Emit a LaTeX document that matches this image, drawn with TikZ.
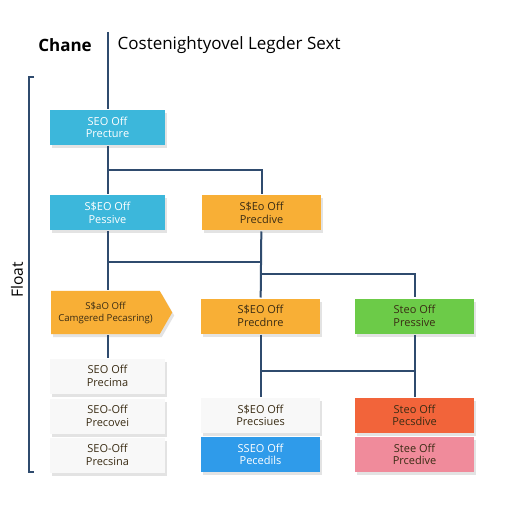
\documentclass[tikz,border=0pt]{standalone}
\usepackage{fontspec}
\setmainfont{Open Sans}
\setsansfont{Open Sans}
\usetikzlibrary{positioning,shapes.symbols,shadows}

\definecolor{linecol}{HTML}{2F4B6E}
\definecolor{cyanbox}{HTML}{3CB7DB}
\definecolor{orangebox}{HTML}{F8AF36}
\definecolor{greenbox}{HTML}{6CCB48}
\definecolor{redbox}{HTML}{F2643A}
\definecolor{bluebox}{HTML}{2F9BEA}
\definecolor{pinkbox}{HTML}{F08B9B}
\definecolor{whitebox}{HTML}{F8F8F8}
\definecolor{darktext}{HTML}{3A2C14}

\begin{document}
\begin{tikzpicture}[x=0.5pt,y=-0.5pt,node distance=77pt,line width=1pt,draw=linecol,
  seo node/.style={rectangle,minimum width=59.5pt,minimum height=17.5pt,inner sep=1pt,align=center,
    font=\fontsize{5.5}{6.2}\selectfont,text=darktext,
    drop shadow={opacity=0.22,shadow xshift=1pt,shadow yshift=-1.5pt}},
  cyan node/.style={seo node,fill=cyanbox,text=white,minimum width=57.5pt},
  orange node/.style={seo node,fill=orangebox},
  green node/.style={seo node,fill=greenbox},
  red node/.style={seo node,fill=redbox},
  blue node/.style={seo node,fill=bluebox,text=white},
  pink node/.style={seo node,fill=pinkbox},
  white node/.style={seo node,fill=whitebox,minimum width=57.5pt}]

 \useasboundingbox[fill=white] (0,0) rectangle (512,512);

 % heading
 \node[font=\fontsize{8.5}{10}\selectfont\bfseries] (chane) at (65,45) {Chane};
 \node[font=\fontsize{8.5}{10}\selectfont,anchor=west] (head) at (110,45) {Costenightyovel Legder Sext};
 \node[font=\fontsize{7.8}{9}\selectfont,rotate=90] (float) at (17,280) {Float};
 \coordinate (top) at (107.5,32);

 % boxes
 \node[cyan node] (1) at (107.5,127.5) {SEO Off\\Precture};
 \node[cyan node] (2) at (107.5,213) {S\$EO Off\\Pessive};
 \node[orange node] (3) [right of=2] {S\$Eo Off\\Precdive};
 \node[seo node,signal,signal to=east,signal pointer angle=120,fill=orangebox,
   font=\fontsize{4.8}{6}\selectfont,
   minimum width=60.5pt,minimum height=21.5pt] (4) at (105.5,312.5) {S\$aO Off\\Camgered Pecasring)};
 \node[orange node] (5) at (260.5,316) {S\$EO Off\\Precdnre};
 \node[green node] (6) [right of=5] {Steo Off\\Pressive};
 \node[white node] (7) at (107.5,376) {SEO Off\\Precima};
 \node[white node] (8) [node distance=20pt,below of=7] {SEO-Off\\Precovei};
 \node[white node] (9) [node distance=19.5pt,below of=8] {SEO-Off\\Precsina};
 \node[white node,minimum width=59.5pt] (10) at (260.5,415.5) {S\$EO Off\\Precsiues};
 \node[red node] (11) [right of=10] {Steo Off\\Pecsdive};
 \node[blue node] (12) [node distance=19.5pt,below of=10] {SSEO Off\\Pecedils};
 \node[pink node] (13) [right of=12] {Stee Off\\Prcedive};

 % junctions
 \coordinate (j1) at (107.5,170);
 \coordinate (j2) at (107.5,262);
 \coordinate (j3) at (260.5,274);
 \coordinate (j4) at (260.5,371);

 \path[draw=linecol]
    (top)	edge (1)
    (1)		edge (2)
    (3)		edge (5)
    (5)		edge (10)
    (6)		edge (11);
 \draw (j1) -| (3.north);
 \draw (j2) -- (j2 -| 3);
 \draw (j3) -| (6.north);
 \draw (j4) -- (j4 -| 6);
 \draw (2.south) -- (2.south |- 4.north);
 \draw (7.north |- 4.south) -- (7.north);

 % bracket
 \draw (34,77) -- (28.5,77) -- (28.5,471.5) -- (34,471.5);

\end{tikzpicture}
\end{document}
